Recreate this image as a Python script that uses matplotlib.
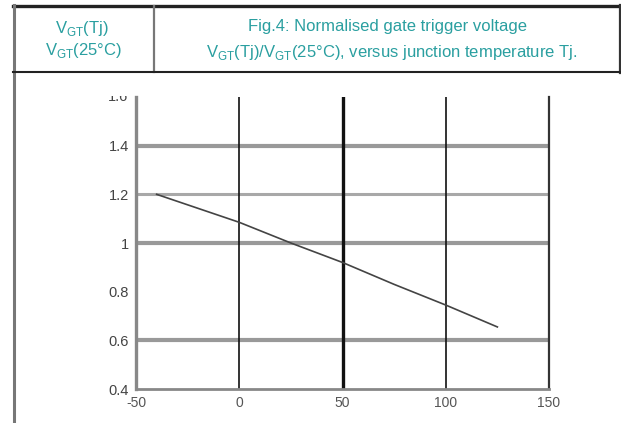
import numpy as np
import matplotlib
matplotlib.use('Agg')
import matplotlib.pyplot as plt
from matplotlib.lines import Line2D
from matplotlib.transforms import Bbox

plt.rcParams['font.family'] = ['Liberation Sans', 'DejaVu Sans']
plt.rcParams['mathtext.fontset'] = 'custom'
plt.rcParams['mathtext.rm'] = 'Liberation Sans'

# values
tj = [-40, 0, 25, 50, 75, 100, 125]
vgt_ratio = [1.2, 1.085, 1.0, 0.92, 0.83, 0.745, 0.655]

xticks = [-50, 0, 50, 100, 150]
xlabels = ['-50', '0', '50', '100', '150']
yticks = [0.4, 0.6, 0.8, 1.0, 1.2, 1.4, 1.6]
ylabels = ['0.4', '0.6', '0.8', '1', '1.2', '1.4', '1.6']

teal = '#2a9fa0'
W, H = 621, 423

fig = plt.figure(figsize=(W/100, H/100), dpi=100)
fig.patch.set_facecolor('white')

def fx(px):
    return px / W

def fy(py):
    return 1 - py / H

# table frame around the figure
def fline(x0, y0, x1, y1, lw, c):
    fig.add_artist(Line2D([fx(x0), fx(x1)], [fy(y0), fy(y1)], lw=lw, color=c,
                          transform=fig.transFigure))

fline(13, 6, 621, 6, 2.4, '#222222')
fline(14, 5, 14, 423, 2.2, '#777777')
fline(619.5, 5, 619.5, 73, 1.6, '#333333')
fline(154, 6, 154, 72, 1.6, '#777777')
fline(13, 72, 621, 72, 1.5, '#222222')

# header texts
fs = 12
fig.text(fx(82), fy(29), r'V$_{\rm GT}$(T$\rm j$)', color=teal, fontsize=fs,
         ha='center', va='center')
fig.text(fx(84), fy(51), r'V$_{\rm GT}$(25°C)', color=teal, fontsize=fs,
         ha='center', va='center')
fig.text(fx(387), fy(27), 'Fig.4: Normalised gate trigger voltage', color=teal,
         fontsize=fs, ha='center', va='center')
fig.text(fx(392), fy(52), r'V$_{\rm GT}$(Tj)/V$_{\rm GT}$(25°C), versus junction temperature Tj.',
         color=teal, fontsize=fs, ha='center', va='center')

# plot area
ax = fig.add_axes([fx(136), fy(389), fx(549) - fx(136), fy(97) - fy(389)])
ax.set_xlim(-50, 150)
ax.set_ylim(0.4, 1.6)

for y, lw, c in [(1.4, 3.0, '#999999'), (1.2, 2.2, '#a8a8a8'),
                 (1.0, 3.0, '#999999'), (0.6, 3.0, '#999999')]:
    ax.axhline(y, color=c, lw=lw, zorder=1)
for x, lw in [(0, 1.2), (50, 2.4), (100, 1.2)]:
    ax.axvline(x, color='#111111', lw=lw, zorder=2)

ax.plot(tj, vgt_ratio, color='#444444', lw=1.2, zorder=3)

ax.spines['top'].set_visible(False)
ax.spines['left'].set_color('#888888')
ax.spines['left'].set_linewidth(2.4)
ax.spines['bottom'].set_color('#888888')
ax.spines['bottom'].set_linewidth(2.0)
ax.spines['right'].set_color('#333333')
ax.spines['right'].set_linewidth(1.6)

ax.set_xticks(xticks)
ax.set_xticklabels(xlabels, fontsize=10, color='#555555')
ax.set_yticks(yticks[:-1])
ax.set_yticklabels(ylabels[:-1], fontsize=10.5, color='#444444')
ax.tick_params(length=0, pad=5)
ax.tick_params(axis='x', pad=5)

# top label is cut off in the scan
top = ax.text(-0.018, yticks[-1], ylabels[-1], transform=ax.get_yaxis_transform(),
              fontsize=10.5, color='#444444', ha='right', va='center',
              clip_on=True)
top.set_clip_box(Bbox.from_extents(0, 0, W, H - 96))

fig.savefig('out.png', dpi=100, facecolor='white')
